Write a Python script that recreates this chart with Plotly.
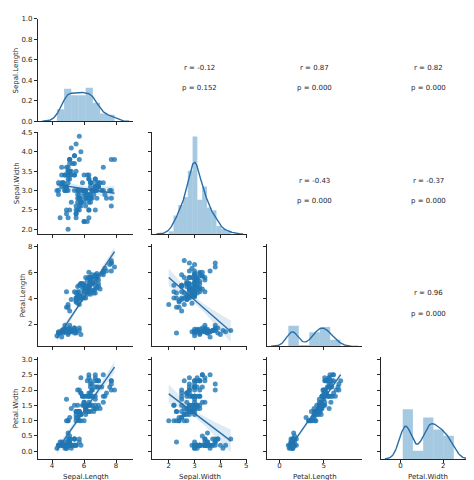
import numpy as np
import plotly.graph_objects as go

# ---------------- data (R iris) ----------------
sepal_length = [5.1,4.9,4.7,4.6,5.0,5.4,4.6,5.0,4.4,4.9,5.4,4.8,4.8,4.3,5.8,5.7,5.4,5.1,5.7,5.1,
                5.4,5.1,4.6,5.1,4.8,5.0,5.0,5.2,5.2,4.7,4.8,5.4,5.2,5.5,4.9,5.0,5.5,4.9,4.4,5.1,
                5.0,4.5,4.4,5.0,5.1,4.8,5.1,4.6,5.3,5.0,7.0,6.4,6.9,5.5,6.5,5.7,6.3,4.9,6.6,5.2,
                5.0,5.9,6.0,6.1,5.6,6.7,5.6,5.8,6.2,5.6,5.9,6.1,6.3,6.1,6.4,6.6,6.8,6.7,6.0,5.7,
                5.5,5.5,5.8,6.0,5.4,6.0,6.7,6.3,5.6,5.5,5.5,6.1,5.8,5.0,5.6,5.7,5.7,6.2,5.1,5.7,
                6.3,5.8,7.1,6.3,6.5,7.6,4.9,7.3,6.7,7.2,6.5,6.4,6.8,5.7,5.8,6.4,6.5,7.7,7.7,6.0,
                6.9,5.6,7.7,6.3,6.7,7.2,6.2,6.1,6.4,7.2,7.4,7.9,6.4,6.3,6.1,7.7,6.3,6.4,6.0,6.9,
                6.7,6.9,5.8,6.8,6.7,6.7,6.3,6.5,6.2,5.9]
sepal_width = [3.5,3.0,3.2,3.1,3.6,3.9,3.4,3.4,2.9,3.1,3.7,3.4,3.0,3.0,4.0,4.4,3.9,3.5,3.8,3.8,
               3.4,3.7,3.6,3.3,3.4,3.0,3.4,3.5,3.4,3.2,3.1,3.4,4.1,4.2,3.1,3.2,3.5,3.6,3.0,3.4,
               3.5,2.3,3.2,3.5,3.8,3.0,3.8,3.2,3.7,3.3,3.2,3.2,3.1,2.3,2.8,2.8,3.3,2.4,2.9,2.7,
               2.0,3.0,2.2,2.9,2.9,3.1,3.0,2.7,2.2,2.5,3.2,2.8,2.5,2.8,2.9,3.0,2.8,3.0,2.9,2.6,
               2.4,2.4,2.7,2.7,3.0,3.4,3.1,2.3,3.0,2.5,2.6,3.0,2.6,2.3,2.7,3.0,2.9,2.9,2.5,2.8,
               3.3,2.7,3.0,2.9,3.0,3.0,2.5,2.9,2.5,3.6,3.2,2.7,3.0,2.5,2.8,3.2,3.0,3.8,2.6,2.2,
               3.2,2.8,2.8,2.7,3.3,3.2,2.8,3.0,2.8,3.0,2.8,3.8,2.8,2.8,2.6,3.0,3.4,3.1,3.0,3.1,
               3.1,3.1,2.7,3.2,3.3,3.0,2.5,3.0,3.4,3.0]
petal_length = [1.4,1.4,1.3,1.5,1.4,1.7,1.4,1.5,1.4,1.5,1.5,1.6,1.4,1.1,1.2,1.5,1.3,1.4,1.7,1.5,
                1.7,1.5,1.0,1.7,1.9,1.6,1.6,1.5,1.4,1.6,1.6,1.5,1.5,1.4,1.5,1.2,1.3,1.4,1.3,1.5,
                1.3,1.3,1.3,1.6,1.9,1.4,1.6,1.4,1.5,1.4,4.7,4.5,4.9,4.0,4.6,4.5,4.7,3.3,4.6,3.9,
                3.5,4.2,4.0,4.7,3.6,4.4,4.5,4.1,4.5,3.9,4.8,4.0,4.9,4.7,4.3,4.4,4.8,5.0,4.5,3.5,
                3.8,3.7,3.9,5.1,4.5,4.5,4.7,4.4,4.1,4.0,4.4,4.6,4.0,3.3,4.2,4.2,4.2,4.3,3.0,4.1,
                6.0,5.1,5.9,5.6,5.8,6.6,4.5,6.3,5.8,6.1,5.1,5.3,5.5,5.0,5.1,5.3,5.5,6.7,6.9,5.0,
                5.7,4.9,6.7,4.9,5.7,6.0,4.8,4.9,5.6,5.8,6.1,6.4,5.6,5.1,5.6,6.1,5.6,5.5,4.8,5.4,
                5.6,5.1,5.1,5.9,5.7,5.2,5.0,5.2,5.4,5.1]
petal_width = [0.2,0.2,0.2,0.2,0.2,0.4,0.3,0.2,0.2,0.1,0.2,0.2,0.1,0.1,0.2,0.4,0.4,0.3,0.3,0.3,
               0.2,0.4,0.2,0.5,0.2,0.2,0.4,0.2,0.2,0.2,0.2,0.4,0.1,0.2,0.2,0.2,0.2,0.1,0.2,0.2,
               0.3,0.3,0.2,0.6,0.4,0.3,0.2,0.2,0.2,0.2,1.4,1.5,1.5,1.3,1.5,1.3,1.6,1.0,1.3,1.4,
               1.0,1.5,1.0,1.4,1.3,1.4,1.5,1.0,1.5,1.1,1.8,1.3,1.5,1.2,1.3,1.4,1.4,1.7,1.5,1.0,
               1.1,1.0,1.2,1.6,1.5,1.6,1.5,1.3,1.3,1.3,1.2,1.4,1.2,1.0,1.3,1.2,1.3,1.3,1.1,1.3,
               2.5,1.9,2.1,1.8,2.2,2.1,1.7,1.8,1.8,2.5,2.0,1.9,2.1,2.0,2.4,2.3,1.8,2.2,2.3,1.5,
               2.3,2.0,2.0,1.8,2.1,1.8,1.8,1.8,2.1,1.6,1.9,2.0,2.2,1.5,1.4,2.3,2.4,1.8,1.8,2.1,
               2.4,2.3,1.9,2.3,2.5,2.3,1.9,2.0,2.3,1.8]

var_names = ["Sepal.Length", "Sepal.Width", "Petal.Length", "Petal.Width"]
upper_pairs = [(0, 1), (0, 2), (0, 3), (1, 2), (1, 3), (2, 3)]
p_labels = ["p = 0.152", "p = 0.000", "p = 0.000", "p = 0.000", "p = 0.000", "p = 0.000"]

x_tick_vals = [[4, 6, 8], [2, 3, 4, 5], [0, 5], [0, 2]]
y_tick_vals = [[0.0, 0.2, 0.4, 0.6, 0.8, 1.0],
               [2.0, 2.5, 3.0, 3.5, 4.0, 4.5],
               [2, 4, 6, 8],
               [0.0, 0.5, 1.0, 1.5, 2.0, 2.5, 3.0]]
y_tick_text = [["0.0", "0.2", "0.4", "0.6", "0.8", "1.0"],
               ["2.0", "2.5", "3.0", "3.5", "4.0", "4.5"],
               ["2", "4", "6", "8"],
               ["0.0", "0.5", "1.0", "1.5", "2.0", "2.5", "3.0"]]

# ---------------- styling / layout constants ----------------
FIG_W, FIG_H = 474, 480
COL_L = [30.0, 144.3, 259.3, 373.3]
CELL_W = 95.7
ROW_T = [7.0, 121.7, 236.0, 350.5]
CELL_H = 104.0
ROW_RANGES = [[0, 1], [1.88, 4.52], [0.28, 8.17], [-0.25, 3.09]]
YTITLE_X = [8.5, 8.5, 15.0, 7.5]
XTITLE_Y = 472.5
C0 = "#1f77b4"
LINE_C = "#2a6ea8"
TXT = "#262626"
FONT = "DejaVu Sans"
FS = 7

data = [np.array(v, dtype=float) for v in (sepal_length, sepal_width, petal_length, petal_width)]
n = len(data[0])


def kde_bw(a):
    return a.std(ddof=1) * len(a) ** (-0.2)


def col_range(a):
    bw = kde_bw(a)
    lo, hi = a.min() - 3 * bw, a.max() + 3 * bw
    m = 0.05 * (hi - lo)
    return [lo - m, hi + m]


def fd_bins(a):
    iqr = np.percentile(a, 75) - np.percentile(a, 25)
    h = 2 * iqr / len(a) ** (1 / 3)
    return min(int(np.ceil((a.max() - a.min()) / h)), 50)


X_RANGES = [col_range(a) for a in data]

fig = go.Figure()
layout = {}


def xdom(j):
    return [COL_L[j] / FIG_W, (COL_L[j] + CELL_W) / FIG_W]


def ydom(i):
    return [1 - (ROW_T[i] + CELL_H) / FIG_H, 1 - ROW_T[i] / FIG_H]


def nm(prefix, k):
    return prefix if k == 1 else f"{prefix}{k}"


axis_common = dict(showline=True, linecolor=TXT, linewidth=1, ticks="outside", ticklen=3,
                   tickwidth=1, tickcolor=TXT, showgrid=False, zeroline=False,
                   tickfont=dict(family=FONT, size=FS, color=TXT))

# diag histogram + kde stats
diag_stats = []
dmax = 0
for a in data:
    counts, edges = np.histogram(a, bins=fd_bins(a), density=True)
    bw = kde_bw(a)
    grid = np.linspace(a.min() - 3 * bw, a.max() + 3 * bw, 200)
    dens = np.exp(-0.5 * ((grid[:, None] - a[None, :]) / bw) ** 2).sum(axis=1) / (len(a) * bw * np.sqrt(2 * np.pi))
    diag_stats.append((counts, edges, grid, dens))
    dmax = max(dmax, counts.max(), dens.max())
DIAG_RANGE = [0, dmax * 1.05]

for i in range(4):
    for j in range(i + 1):
        k = i * 4 + j + 1
        xa = dict(axis_common, domain=xdom(j), range=X_RANGES[j], anchor=nm("y", k),
                  tickvals=x_tick_vals[j], showticklabels=(i == 3), ticklabelstandoff=-3)
        ya = dict(axis_common, domain=ydom(i), range=ROW_RANGES[i], anchor=nm("x", k),
                  tickvals=y_tick_vals[i], ticktext=y_tick_text[i], showticklabels=(j == 0))
        layout[nm("xaxis", k)] = xa
        layout[nm("yaxis", k)] = ya
        if i == j:
            counts, edges, grid, dens = diag_stats[i]
            yo = 21 + i
            layout[f"yaxis{yo}"] = dict(overlaying=nm("y", k), anchor=nm("x", k), range=DIAG_RANGE,
                                        visible=False, showgrid=False, zeroline=False)
            fig.add_trace(go.Scatter(x=[None], y=[None], xaxis=nm("x", k), yaxis=nm("y", k),
                                     mode="markers", showlegend=False, hoverinfo="skip"))
            fig.add_trace(go.Bar(x=(edges[:-1] + edges[1:]) / 2, y=counts, width=np.diff(edges),
                                 marker=dict(color="rgba(31,119,180,0.4)", line=dict(width=0)),
                                 xaxis=nm("x", k), yaxis=f"y{yo}", showlegend=False))
            fig.add_trace(go.Scatter(x=grid, y=dens, mode="lines", line=dict(color=LINE_C, width=1.4),
                                     xaxis=nm("x", k), yaxis=f"y{yo}", showlegend=False))
        else:
            xv, yv = data[j], data[i]
            slope, inter = np.polyfit(xv, yv, 1)
            xs = np.linspace(xv.min(), xv.max(), 100)
            yh = inter + slope * xs
            resid = yv - (inter + slope * xv)
            s = np.sqrt((resid ** 2).sum() / (n - 2))
            sxx = ((xv - xv.mean()) ** 2).sum()
            se = s * np.sqrt(1 / n + (xs - xv.mean()) ** 2 / sxx)
            up, lo = yh + 1.976 * se, yh - 1.976 * se
            fig.add_trace(go.Scatter(x=xv, y=yv, mode="markers",
                                     marker=dict(color=C0, opacity=0.8, size=5, line=dict(width=0)),
                                     xaxis=nm("x", k), yaxis=nm("y", k), showlegend=False))
            fig.add_trace(go.Scatter(x=np.concatenate([xs, xs[::-1]]), y=np.concatenate([up, lo[::-1]]),
                                     fill="toself", fillcolor="rgba(31,119,180,0.15)", line=dict(width=0),
                                     mode="lines", xaxis=nm("x", k), yaxis=nm("y", k), showlegend=False))
            fig.add_trace(go.Scatter(x=xs, y=yh, mode="lines", line=dict(color=LINE_C, width=1.4),
                                     xaxis=nm("x", k), yaxis=nm("y", k), showlegend=False))

annotations = []
for (i, j), ptxt in zip(upper_pairs, p_labels):
    r = np.corrcoef(data[i], data[j])[0, 1]
    cx = (COL_L[j] + CELL_W / 2) / FIG_W
    for txt, off in ((f"r = {r:.2f}", 49.9), (ptxt, 70.7)):
        annotations.append(dict(text=txt, x=cx, y=1 - (ROW_T[i] + off) / FIG_H, xref="paper", yref="paper",
                                xanchor="center", yanchor="middle", showarrow=False,
                                font=dict(family=FONT, size=FS, color=TXT)))
for i in range(4):
    annotations.append(dict(text=var_names[i], x=YTITLE_X[i] / FIG_W, y=1 - (ROW_T[i] + CELL_H / 2) / FIG_H,
                            xref="paper", yref="paper", textangle=-90, xanchor="center", yanchor="middle",
                            showarrow=False, font=dict(family=FONT, size=FS, color=TXT)))
for j in range(4):
    annotations.append(dict(text=var_names[j], x=(COL_L[j] + CELL_W / 2) / FIG_W, y=1 - XTITLE_Y / FIG_H,
                            xref="paper", yref="paper", xanchor="center", yanchor="middle",
                            showarrow=False, font=dict(family=FONT, size=FS, color=TXT)))

fig.update_layout(width=FIG_W, height=FIG_H, margin=dict(l=0, r=0, t=0, b=0),
                  paper_bgcolor="white", plot_bgcolor="white", showlegend=False,
                  barmode="overlay", annotations=annotations, **layout)
fig.write_html("out.html")
